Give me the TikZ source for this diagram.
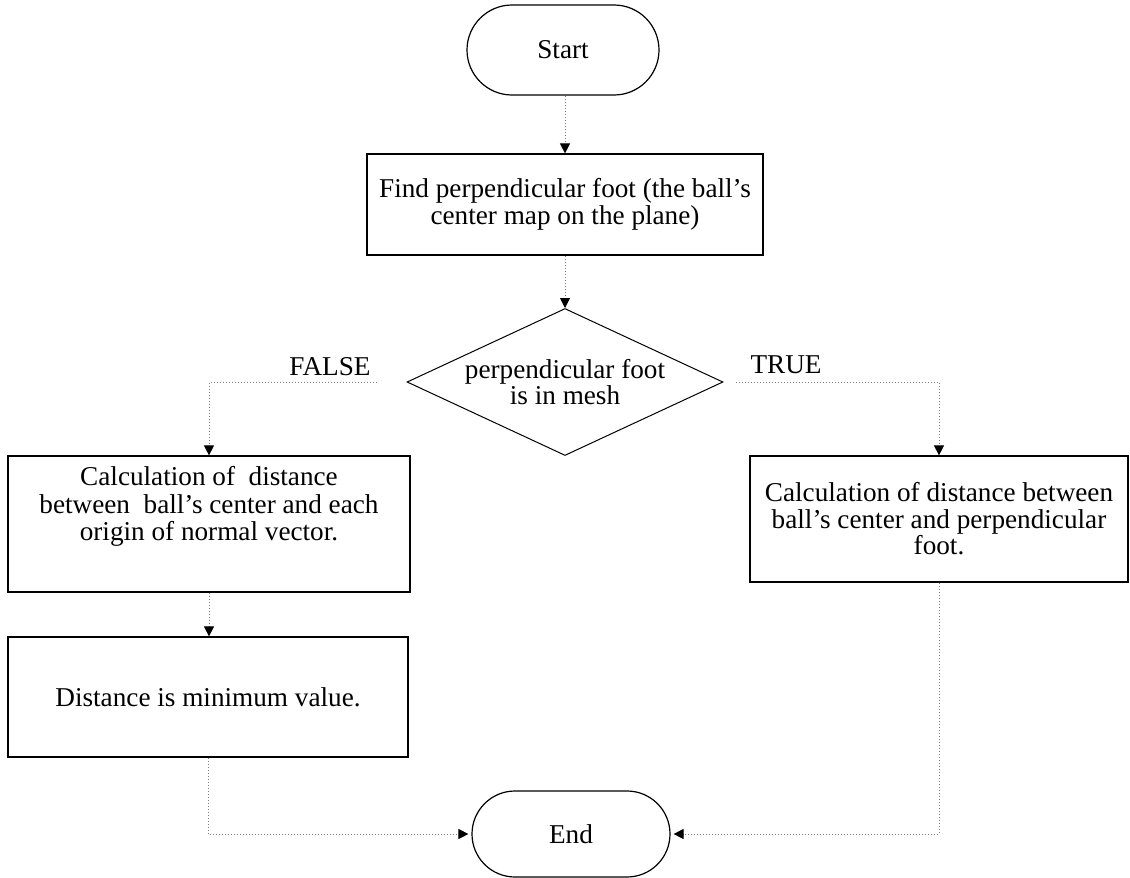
\documentclass[tikz,border=0pt]{standalone}
\usepackage{fontspec}
\setmainfont{Liberation Serif}
\usetikzlibrary{shapes.geometric,shapes.misc,arrows.meta}
\begin{document}
\begin{tikzpicture}[x=0.5pt,y=-0.5pt,
  txt/.style={font=\fontsize{13.6pt}{13.25pt}\selectfont},
  box/.style={draw=black, line width=0.6pt, rectangle, inner sep=0pt, txt},
  term/.style={draw=black, rounded rectangle, line width=0.6pt, inner sep=0pt, txt},
  decision/.style={draw=black, diamond, aspect=2.15, inner sep=0pt, line width=0.5pt, align=center, txt},
  conn/.style={draw=black!50, line width=0.5pt, densely dotted,
    -{Triangle[width=5pt,length=5pt,color=black]}}]
\useasboundingbox (0,0) rectangle (1130,878);

\node[term, minimum width=96pt, minimum height=45pt] (start) at (563,50) {Start};
\node[box, minimum width=198pt, minimum height=50.5pt, align=center] (find) at (565,204.5)
  {Find perpendicular foot (the ball’s\\ center map on the plane)};
\node[decision, minimum width=158pt, minimum height=73.5pt] (dec) at (565,382)
  {perpendicular foot\\ is in mesh};
\node[txt, anchor=base] (flab) at (330,375) {FALSE};
\node[txt, anchor=base] (tlab) at (786,373) {TRUE};
\node[box, minimum width=201pt, minimum height=68pt] (calcA) at (209,524)
  {\parbox[c][58pt][t]{196pt}{\centering\strut Calculation of\ \ distance\\ between\ \ ball’s center and each\\ origin of normal vector.}};
\node[box, minimum width=189pt, minimum height=63pt, align=center] (calcB) at (939,519)
  {Calculation of distance between\\ ball’s center and perpendicular\\ foot.};
\node[box, minimum width=200pt, minimum height=60pt] (minv) at (208,697)
  {Distance is minimum value.};
\node[term, minimum width=99pt, minimum height=43pt] (end) at (571,834) {End};

\draw[conn] (find.north |- start.south) -- (find.north);
\draw[conn] (find.south) -- (dec.north);
\draw[conn, shorten <=15pt] (dec.west) -| (calcA.north);
\draw[conn, shorten <=6pt] (dec.east) -| (calcB.north);
\draw[conn] (calcA.south) -- (calcA.south |- minv.north);
\draw[conn, shorten >=1.5pt] (minv.south) |- (end.west);
\draw[conn, shorten >=1.5pt] (calcB.south) |- (end.east);
\end{tikzpicture}
\end{document}
